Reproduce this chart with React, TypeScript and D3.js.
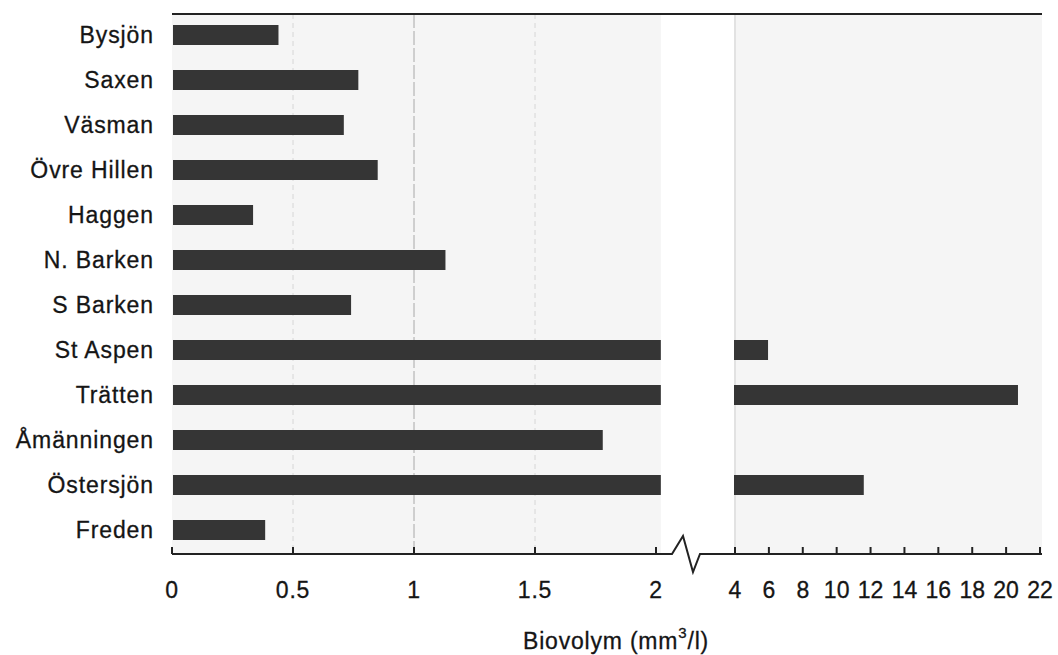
import React from 'react';
import * as d3 from 'd3';

// lakes, top to bottom
const lakes = [
  'Bysjön', 'Saxen', 'Väsman', 'Övre Hillen', 'Haggen', 'N. Barken',
  'S Barken', 'St Aspen', 'Trätten', 'Åmänningen', 'Östersjön', 'Freden',
];
// biovolume, mm3/l
const biovolume = [0.44, 0.77, 0.71, 0.85, 0.335, 1.13, 0.74, 5.95, 20.7, 1.78, 11.6, 0.385];

const leftTicks = [0, 0.5, 1, 1.5, 2];
const leftTickLabels = ['0', '0.5', '1', '1.5', '2'];
const rightTicks = [4, 6, 8, 10, 12, 14, 16, 18, 20, 22];
const leftGrid = [0.5, 1, 1.5];

const W = 1058;
const H = 655;
const TOP = 14;
const AXIS_Y = 554;
const FONT = 'Liberation Sans, Arial, Helvetica, sans-serif';
const INK = '#151515';

const App = () => {
  const xLeft = d3.scaleLinear().domain([0, 2]).range([172, 656]);
  const xRight = d3.scaleLinear().domain([4, 22]).range([735, 1040]);
  const y = d3.scalePoint<string>().domain(lakes).range([35, 530]);

  const leftEnd = xLeft(2.02);
  const rightStart = xRight(4) - 1;
  const rightEnd = xRight(22) + 2;
  const barH = 20;

  const rows = lakes.map((name, i) => ({ name, value: biovolume[i] }));

  // axis line with the zigzag break between 2 and 4
  const breakPath = d3.line()([
    [xLeft(0), AXIS_Y],
    [672, AXIS_Y],
    [683, AXIS_Y - 18],
    [693, AXIS_Y + 18],
    [700, AXIS_Y],
    [rightEnd, AXIS_Y],
  ]);

  return (
    <svg width={W} height={H} style={{ position: 'absolute', left: 0, top: 0 }}>
      <rect width={W} height={H} fill="#fff" />

      {/* panels */}
      <rect x={xLeft(0)} y={TOP} width={leftEnd - xLeft(0)} height={AXIS_Y - TOP} fill="#f5f5f5" />
      <rect x={rightStart} y={TOP} width={rightEnd - rightStart} height={AXIS_Y - TOP} fill="#f5f5f5" />

      {/* faint grid */}
      {leftGrid.map((v) => (
        <line key={v} x1={xLeft(v)} x2={xLeft(v)} y1={TOP} y2={AXIS_Y}
          stroke={v === 1 ? '#a8a8a8' : '#d6d6d6'} strokeWidth={1}
          strokeDasharray={v === 1 ? '14,3' : '5,4'} />
      ))}
      <line x1={xRight(4)} x2={xRight(4)} y1={TOP} y2={AXIS_Y} stroke="#cfcfcf" strokeWidth={1} />

      {/* top border */}
      <line x1={xLeft(0)} x2={rightEnd} y1={TOP} y2={TOP} stroke="#222" strokeWidth={2} />

      {/* bars */}
      {rows.map((d) => (
        <g key={d.name}>
          <rect x={xLeft(0) + 1} y={(y(d.name) ?? 0) - barH / 2}
            width={Math.min(xLeft(d.value), leftEnd) - xLeft(0) - 1} height={barH} fill="#353535" />
          {d.value > 2 && (
            <rect x={rightStart} y={(y(d.name) ?? 0) - barH / 2}
              width={xRight(d.value) - rightStart} height={barH} fill="#353535" />
          )}
        </g>
      ))}

      {/* category labels */}
      {lakes.map((name) => (
        <text key={name} x={154} y={y(name)} dy="0.35em" textAnchor="end"
          fontFamily={FONT} fontSize={23} letterSpacing={0.9} fill={INK}
          stroke={INK} strokeWidth={0.3}>
          {name}
        </text>
      ))}

      {/* x axis */}
      <path d={breakPath ?? ''} fill="none" stroke="#222" strokeWidth={2} strokeLinejoin="miter" />
      {leftTicks.map((t, i) => (
        <g key={'l' + t}>
          <line x1={xLeft(t)} x2={xLeft(t)} y1={AXIS_Y} y2={AXIS_Y - 7} stroke="#222" strokeWidth={2} />
          <text x={xLeft(t)} y={598} textAnchor="middle" fontFamily={FONT} fontSize={23}
            letterSpacing={0.8} fill={INK} stroke={INK} strokeWidth={0.3}>{leftTickLabels[i]}</text>
        </g>
      ))}
      {rightTicks.map((t) => (
        <g key={'r' + t}>
          <line x1={xRight(t)} x2={xRight(t)} y1={AXIS_Y} y2={AXIS_Y - 7} stroke="#222" strokeWidth={2} />
          <text x={xRight(t)} y={598} textAnchor="middle" fontFamily={FONT} fontSize={23}
            letterSpacing={0} fill={INK} stroke={INK} strokeWidth={0.3}>{t}</text>
        </g>
      ))}

      <text x={616} y={649} textAnchor="middle" fontFamily={FONT} fontSize={23}
        letterSpacing={0.8} fill={INK} stroke={INK} strokeWidth={0.3}>
        Biovolym (mm<tspan fontSize={15} dy={-11}>3</tspan><tspan dy={11}>/l)</tspan>
      </text>
    </svg>
  );
};

export default App;
